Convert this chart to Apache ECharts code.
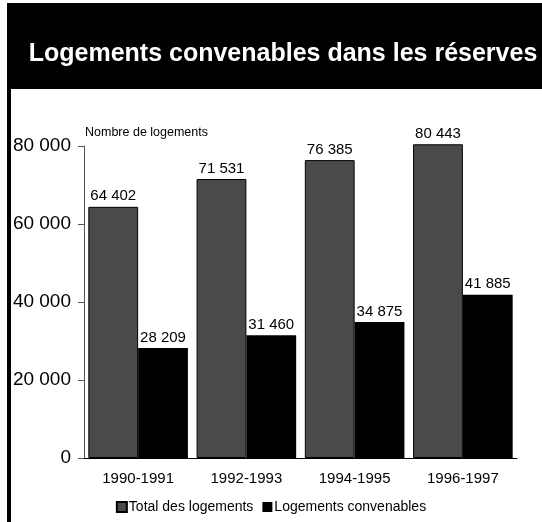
<!DOCTYPE html>
<html>
<head>
<meta charset="utf-8">
<script src="https://cdn.jsdelivr.net/npm/echarts@6/dist/echarts.min.js"></script>
<style>
html,body{margin:0;padding:0;background:#fff;}
#c{width:542px;height:522px;}
</style>
</head>
<body>
<div id="c"></div>
<script>
const categories = ['1990-1991', '1992-1993', '1994-1995', '1996-1997'];
const totalLogements = [64402, 71531, 76385, 80443];
const logementsConvenables = [28209, 31460, 34875, 41885];
const seriesNames = ['Total des logements', 'Logements convenables'];
const titleText = 'Logements convenables dans les réserves';
const axisName = 'Nombre de logements';

function fmt(v) {
  return String(v).replace(/\B(?=(\d{3})+(?!\d))/g, ' ');
}

const chart = echarts.init(document.getElementById('c'), null, {renderer: 'canvas'});
const FONT = 'Liberation Sans, Arial, sans-serif';

chart.setOption({
  backgroundColor: '#fff',
  animation: false,
  title: {
    text: titleText,
    left: 278,
    top: 37,
    textAlign: 'center',
    textStyle: {color: '#fff', fontSize: 25, fontWeight: 'bold', fontFamily: FONT}
  },
  graphic: [
    {type: 'rect', z: -1, shape: {x: 7, y: 3, width: 535, height: 86}, style: {fill: '#000'}},
    {type: 'rect', z: -1, shape: {x: 7, y: 89, width: 4, height: 433}, style: {fill: '#000'}},
    {type: 'text', left: 85, top: 126, style: {text: axisName, fill: '#000', fontSize: 12.5, fontFamily: FONT}}
  ],
  legend: {
    bottom: 3,
    left: 'center',
    itemWidth: 10,
    itemHeight: 10,
    itemGap: 9,
    icon: 'rect',
    textStyle: {fontSize: 14, fontFamily: FONT, color: '#000', padding: [0, 0, 0, -3]},
    data: seriesNames
  },
  grid: {left: 84, right: 25, top: 146, bottom: 64},
  xAxis: {
    type: 'category',
    data: categories,
    axisLine: {lineStyle: {color: '#000', width: 1}},
    axisTick: {alignWithLabel: true, length: 5, lineStyle: {color: '#000'}},
    axisLabel: {color: '#000', fontSize: 15, fontFamily: FONT, margin: 13}
  },
  yAxis: {
    type: 'value',
    min: 0,
    max: 80000,
    interval: 20000,
    axisLine: {show: true, lineStyle: {color: '#555', width: 1}},
    axisTick: {show: true, length: 6, lineStyle: {color: '#555'}},
    splitLine: {show: false},
    axisLabel: {color: '#000', fontSize: 19, fontFamily: FONT, margin: 13, formatter: fmt}
  },
  series: [
    {
      name: seriesNames[0],
      type: 'bar',
      data: totalLogements,
      barGap: '0%',
      barCategoryGap: '8%',
      clip: false,
      itemStyle: {color: '#4a4a4a', borderColor: '#000', borderWidth: 1},
      label: {show: true, position: 'top', distance: 3, color: '#000', fontSize: 15, fontFamily: FONT, formatter: p => fmt(p.value)}
    },
    {
      name: seriesNames[1],
      type: 'bar',
      data: logementsConvenables,
      clip: false,
      itemStyle: {color: '#000'},
      label: {show: true, position: 'top', distance: 3, color: '#000', fontSize: 15, fontFamily: FONT, formatter: p => fmt(p.value)}
    }
  ]
});
</script>
</body>
</html>
